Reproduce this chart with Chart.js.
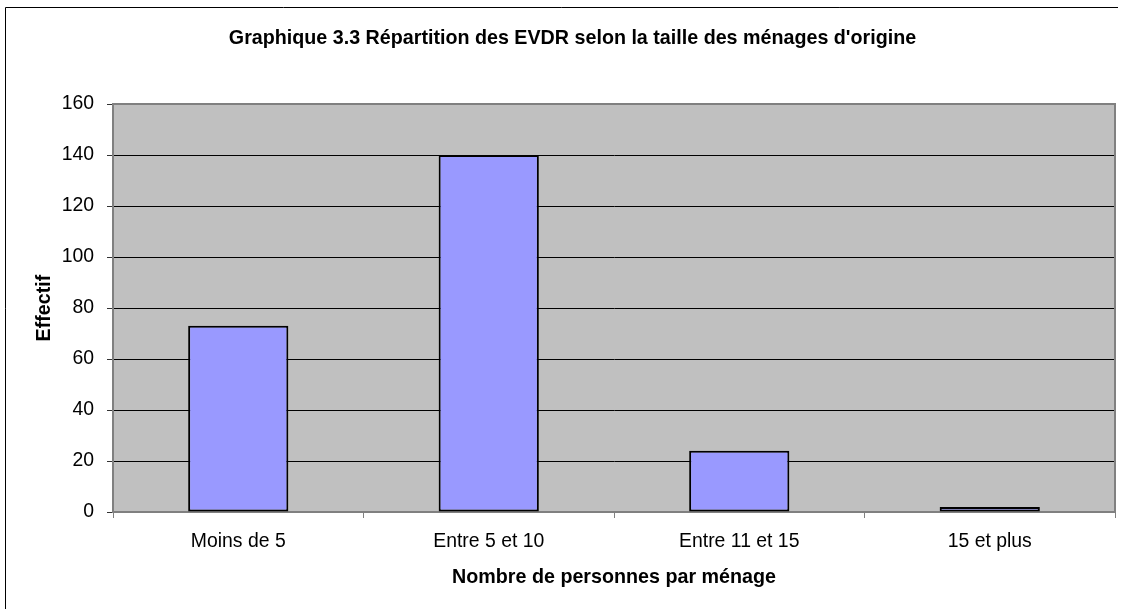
<!DOCTYPE html>
<html lang="fr">
<head>
    <meta charset="utf-8" />
    <title>Graphique 3.3</title>
    <script src="https://cdn.jsdelivr.net/npm/chart.js"></script>
    <style>
        body { margin: 0; background: #ffffff; overflow: hidden; }
        .zone_graphique { position: relative; width: 1123px; height: 609px; }
    </style>
</head>
<body>
    <div class="zone_graphique">
        <canvas id="grafico_evdr"></canvas>
    </div>
<script>
    // Données
    const categories = ["Moins de 5", "Entre 5 et 10", "Entre 11 et 15", "15 et plus"];
    const effectifs = [73, 140, 24, 2];
    const graduationsY = [0, 20, 40, 60, 80, 100, 120, 140, 160];

    const police = "'Liberation Sans', Arial, sans-serif";

    // Fond gris de la zone de tracé + cadre extérieur
    const fondEtCadre = {
        id: "fondEtCadre",
        beforeDraw(chart) {
            const { ctx, chartArea: a } = chart;
            ctx.save();
            ctx.fillStyle = "#C0C0C0";
            ctx.fillRect(a.left, a.top, a.right - a.left, a.bottom - a.top);
            // cadre du graphique
            ctx.strokeStyle = "#000000";
            ctx.lineWidth = 1;
            ctx.beginPath();
            ctx.moveTo(5.5, chart.height);
            ctx.lineTo(5.5, 7.5);
            ctx.lineTo(1118, 7.5);
            ctx.stroke();
            ctx.restore();
        },
        afterDatasetsDraw(chart) {
            const { ctx, chartArea: a } = chart;
            ctx.save();
            ctx.strokeStyle = "#808080";
            ctx.lineWidth = 2;
            ctx.beginPath();
            ctx.moveTo(a.left, a.top);
            ctx.lineTo(a.right, a.top);
            ctx.lineTo(a.right, a.bottom);
            ctx.stroke();
            ctx.restore();
        }
    };

    const ctx = document.getElementById("grafico_evdr").getContext("2d");
    new Chart(ctx, {
        type: "bar",
        data: {
            labels: categories,
            datasets: [{
                label: "Effectif",
                data: effectifs,
                backgroundColor: "#9999FF",
                borderColor: "#000000",
                borderWidth: 2,
                borderSkipped: false,
                barPercentage: 0.4,
                categoryPercentage: 1.0
            }]
        },
        options: {
            responsive: true,
            maintainAspectRatio: false,
            animation: false,
            layout: { padding: { left: 30, right: 8, top: 0, bottom: 0 } },
            plugins: {
                legend: { display: false },
                tooltip: { enabled: false },
                title: {
                    display: true,
                    text: "Graphique 3.3 Répartition des EVDR selon la taille des ménages d'origine",
                    color: "#000000",
                    font: { family: police, size: 19.7, weight: "bold" },
                    padding: { top: 27, bottom: 53.4 }
                }
            },
            scales: {
                x: {
                    afterFit: (scale) => { scale.height = 97; },
                    grid: {
                        offset: true,
                        drawOnChartArea: false,
                        drawTicks: true,
                        tickLength: 6,
                        color: "#808080"
                    },
                    border: { color: "#808080", width: 2 },
                    ticks: {
                        color: "#000000",
                        padding: 12,
                        font: { family: police, size: 19.4 }
                    },
                    title: {
                        display: true,
                        text: "Nombre de personnes par ménage",
                        color: "#000000",
                        font: { family: police, size: 19.7, weight: "bold" },
                        padding: { top: 0, bottom: 20 }
                    }
                },
                y: {
                    min: 0,
                    max: 160,
                    afterFit: (scale) => { scale.width = 83; },
                    afterBuildTicks: (scale) => {
                        scale.ticks = graduationsY.map((v) => ({ value: v }));
                    },
                    grid: {
                        drawTicks: true,
                        tickLength: 6,
                        tickColor: "#333333",
                        color: (c) => (c.tick && (c.tick.value === 0 || c.tick.value === 160)) ? "rgba(0,0,0,0)" : "#000000",
                        lineWidth: 1
                    },
                    border: { color: "#808080", width: 2 },
                    ticks: {
                        color: "#000000",
                        padding: 13,
                        font: { family: police, size: 19.4 }
                    },
                    title: {
                        display: true,
                        text: "Effectif",
                        color: "#000000",
                        font: { family: police, size: 19.7, weight: "bold" },
                        padding: { top: 3, bottom: 0 }
                    }
                }
            }
        },
        plugins: [fondEtCadre]
    });
</script>
</body>
</html>
